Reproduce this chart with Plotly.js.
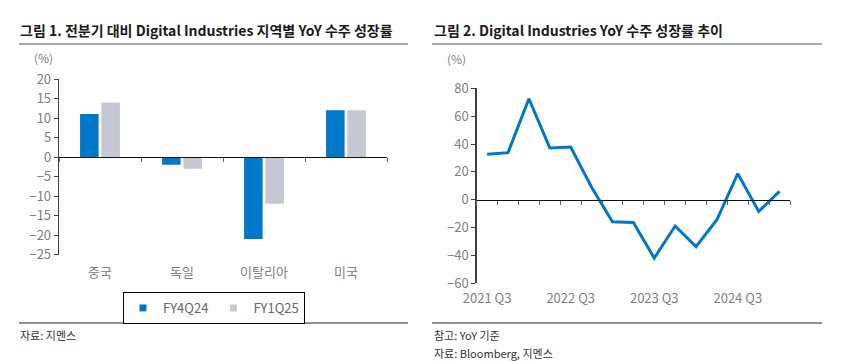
<!DOCTYPE html>
<html>
<head>
<meta charset="utf-8">
<script src="https://cdn.plot.ly/plotly-3.0.1.min.js"></script>
<style>
html,body{margin:0;padding:0;background:#fff;}
#chart{width:847px;height:361px;}
</style>
</head>
<body>
<div id="chart"></div>
<script>
// ---- Data ----
const regions = ['중국', '독일', '이탈리아', '미국'];
const fy4q24 = [11, -2, -21, 12];
const fy1q25 = [14, -3, -12, 12];
const seriesNames = ['FY4Q24', 'FY1Q25'];

const quarters = ['2021 Q3','2021 Q4','2022 Q1','2022 Q2','2022 Q3','2022 Q4','2023 Q1','2023 Q2',
                  '2023 Q3','2023 Q4','2024 Q1','2024 Q2','2024 Q3','2024 Q4','2025 Q1'];
const yoy = [32.6, 33.8, 72.5, 37.2, 37.9, 9, -15.8, -16.3, -41.9, -18.9, -33.7, -14.4, 18.7, -8.4, 6];
const quarterTicks = ['2021 Q3','2022 Q3','2023 Q3','2024 Q3'];

// ---- Layout helpers ----
const W = 847, H = 361;
const px = v => v / W;
const py = v => 1 - v / H;
const FONT = '"Noto Sans CJK KR", "Noto Sans", sans-serif';
const BLUE = '#0077C8', GREY = '#C5C7D2';
const AX = '#404040', TICKTXT = '#808080';

const yRange1 = [-25, 20];
const yRange2 = [-60, 80];
const yDom1 = [py(254.5), py(79)];
const yDom2 = [py(283.3), py(88.3)];
const zeroPos = (r, d) => d[0] + (0 - r[0]) / (r[1] - r[0]) * (d[1] - d[0]);

const traces = [
  {type:'bar', name:seriesNames[0], x:regions, y:fy4q24, marker:{color:BLUE}, xaxis:'x', yaxis:'y',
   hoverinfo:'skip', showlegend:false, legendgroup:'a'},
  {type:'bar', name:seriesNames[1], x:regions, y:fy1q25, marker:{color:GREY}, xaxis:'x', yaxis:'y',
   hoverinfo:'skip', showlegend:false, legendgroup:'b'},
  // legend entries with small square keys
  {type:'scatter', mode:'markers', name:seriesNames[0], x:[regions[0]], y:[null], xaxis:'x', yaxis:'y',
   marker:{symbol:'square', size:7, color:BLUE}, legendgroup:'a', hoverinfo:'skip'},
  {type:'scatter', mode:'markers', name:seriesNames[1], x:[regions[0]], y:[null], xaxis:'x', yaxis:'y',
   marker:{symbol:'square', size:7, color:GREY}, legendgroup:'b', hoverinfo:'skip'},
  {type:'scatter', mode:'lines', x:quarters, y:yoy, line:{color:BLUE, width:3}, xaxis:'x2', yaxis:'y2',
   showlegend:false, hoverinfo:'skip'},
  // carriers for the zero-line axes
  {type:'scatter', mode:'markers', x:[0], y:[null], xaxis:'x3', yaxis:'y', showlegend:false, hoverinfo:'skip'},
  {type:'scatter', mode:'markers', x:[0], y:[null], xaxis:'x4', yaxis:'y2', showlegend:false, hoverinfo:'skip'}
];

const tickFont = {family:FONT, size:13, color:TICKTXT};

const layout = {
  width:W, height:H,
  margin:{l:0, r:0, t:0, b:0},
  paper_bgcolor:'#fff', plot_bgcolor:'rgba(0,0,0,0)',
  font:{family:FONT},
  barmode:'group', bargap:0.48, bargroupgap:0.13,
  showlegend:true,
  legend:{orientation:'h', x:px(214), y:py(292), xanchor:'center', yanchor:'top',
          bordercolor:'#000', borderwidth:1, bgcolor:'#fff', itemwidth:30, entrywidth:0,
          tracegroupgap:0,
          font:{family:FONT, size:13, color:'#666'}},
  xaxis:{domain:[px(59), px(387)], anchor:'y', type:'category', showline:false, ticks:'',
         showgrid:false, zeroline:false, tickfont:tickFont, range:[-0.5, regions.length-0.5],
         ticklabelstandoff:8},
  yaxis:{domain:yDom1, anchor:'x', range:yRange1, tickmode:'linear', tick0:0, dtick:5,
         showline:true, linecolor:AX, linewidth:1.3, ticks:'outside', ticklen:4, tickcolor:AX,
         showgrid:false, zeroline:false, tickfont:tickFont},
  xaxis3:{overlaying:'x', anchor:'free', position:zeroPos(yRange1, yDom1), type:'linear',
          range:[-0.5, regions.length-0.5], tickmode:'linear', tick0:-0.5, dtick:1,
          showline:true, linecolor:'#111', linewidth:1.3, ticks:'outside', ticklen:4, tickcolor:'#666',
          showticklabels:false, showgrid:false, zeroline:false},
  xaxis2:{domain:[px(476.7), px(790)], anchor:'y2', type:'category', showline:false, ticks:'',
          tickmode:'array', tickvals:quarterTicks, ticktext:quarterTicks,
          showgrid:false, zeroline:false, tickfont:tickFont, range:[-0.5, quarters.length-0.5],
          ticklabelstandoff:6},
  yaxis2:{domain:yDom2, anchor:'x2', range:yRange2, tickmode:'linear', tick0:0, dtick:20,
          showline:true, linecolor:AX, linewidth:1.3, ticks:'outside', ticklen:4, tickcolor:AX,
          showgrid:false, zeroline:false, tickfont:tickFont},
  xaxis4:{overlaying:'x2', anchor:'free', position:zeroPos(yRange2, yDom2), type:'linear',
          range:[-0.5, quarters.length-0.5], tickmode:'linear', tick0:-0.5, dtick:1,
          showline:true, linecolor:'#111', linewidth:1.3, ticks:'outside', ticklen:4, tickcolor:'#666',
          showticklabels:false, showgrid:false, zeroline:false},
  shapes:[
    {type:'line', xref:'paper', yref:'paper', x0:px(19), x1:px(408), y0:py(44), y1:py(44), line:{color:'#8c8c8c', width:1.3}},
    {type:'line', xref:'paper', yref:'paper', x0:px(19), x1:px(408), y0:py(323), y1:py(323), line:{color:'#6e6e6e', width:1.3}},
    {type:'line', xref:'paper', yref:'paper', x0:px(432), x1:px(822), y0:py(44), y1:py(44), line:{color:'#8c8c8c', width:1.3}},
    {type:'line', xref:'paper', yref:'paper', x0:px(432), x1:px(822), y0:py(323), y1:py(323), line:{color:'#6e6e6e', width:1.3}}
  ],
  annotations:[
    {text:'그림 1. 전분기 대비 Digital Industries 지역별 YoY 수주 성장률', xref:'paper', yref:'paper', x:px(18), y:py(30),
     xanchor:'left', yanchor:'middle', showarrow:false, font:{family:FONT, size:14, weight:'bold', color:'#1a1a1a'}},
    {text:'그림 2. Digital Industries YoY 수주 성장률 추이', xref:'paper', yref:'paper', x:px(432), y:py(30),
     xanchor:'left', yanchor:'middle', showarrow:false, font:{family:FONT, size:14, weight:'bold', color:'#1a1a1a'}},
    {text:'(%)', xref:'paper', yref:'paper', x:px(43), y:py(57), xanchor:'center', yanchor:'middle', showarrow:false,
     font:{family:FONT, size:12, color:TICKTXT}},
    {text:'(%)', xref:'paper', yref:'paper', x:px(457), y:py(58), xanchor:'center', yanchor:'middle', showarrow:false,
     font:{family:FONT, size:12, color:TICKTXT}},
    {text:'자료: 지멘스', xref:'paper', yref:'paper', x:px(18), y:py(335), xanchor:'left', yanchor:'middle', showarrow:false,
     font:{family:FONT, size:11, color:'#333'}},
    {text:'참고: YoY 기준', xref:'paper', yref:'paper', x:px(432), y:py(335), xanchor:'left', yanchor:'middle', showarrow:false,
     font:{family:FONT, size:11, color:'#333'}},
    {text:'자료: Bloomberg, 지멘스', xref:'paper', yref:'paper', x:px(432), y:py(353), xanchor:'left', yanchor:'middle', showarrow:false,
     font:{family:FONT, size:11, color:'#333'}}
  ]
};

Plotly.newPlot('chart', traces, layout, {staticPlot:true, displayModeBar:false});
</script>
</body>
</html>
